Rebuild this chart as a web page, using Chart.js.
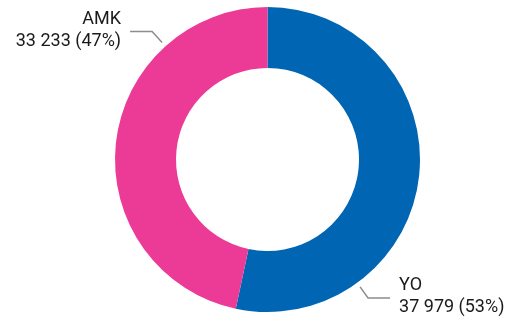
<!DOCTYPE html>
<html>
<head>
<meta charset="utf-8">
<script src="https://cdn.jsdelivr.net/npm/chart.js"></script>
<style>
  html, body { margin: 0; padding: 0; background: #fff; }
  #wrap { width: 514px; height: 317px; }
</style>
</head>
<body>
<div id="wrap"><canvas id="chart" width="514" height="317"></canvas></div>
<script>
const categories = ["YO", "AMK"];
const values = [37979, 33233];
const colors = ["#0066b3", "#ec3a97"];

const total = values.reduce((a, b) => a + b, 0);
const fmt = n => String(n).replace(/\B(?=(\d{3})+(?!\d))/g, " ");

// angle (deg clockwise from top) where the leader touches the ring, and label side
const leaders = [
  { angle: 144, side: "right", diag: [8, 11], run: 22 },
  { angle: 318, side: "left", diag: [-10, -11], run: 22 }
];

const calloutPlugin = {
  id: "callouts",
  afterDraw(chart) {
    const ctx = chart.ctx;
    const meta = chart.getDatasetMeta(0);
    meta.data.forEach((arc, i) => {
      const L = leaders[i];
      const a = (L.angle - 90) * Math.PI / 180;
      const r = arc.outerRadius + 5;
      const x0 = arc.x + Math.cos(a) * r;
      const y0 = arc.y + Math.sin(a) * r;
      const x1 = x0 + L.diag[0];
      const y1 = y0 + L.diag[1];
      const dir = L.side === "right" ? 1 : -1;
      const x2 = x1 + dir * L.run;
      ctx.save();
      ctx.strokeStyle = "#8c8c8c";
      ctx.lineWidth = 1.5;
      ctx.beginPath();
      ctx.moveTo(x0, y0);
      ctx.lineTo(x1, y1);
      ctx.lineTo(x2, y1);
      ctx.stroke();
      ctx.fillStyle = "#1a1a1a";
      ctx.font = "18px Roboto";
      ctx.textBaseline = "middle";
      ctx.textAlign = L.side === "right" ? "left" : "right";
      const tx = x2 + dir * 9;
      const pct = Math.round(values[i] / total * 100);
      ctx.fillText(categories[i], tx, y1 - 12);
      ctx.fillText(fmt(values[i]) + " (" + pct + "%)", tx, y1 + 10);
      ctx.restore();
    });
  }
};

new Chart(document.getElementById("chart"), {
  type: "doughnut",
  data: {
    labels: categories,
    datasets: [{
      data: values,
      backgroundColor: colors,
      borderWidth: 0
    }]
  },
  options: {
    responsive: false,
    animation: false,
    cutout: "60%",
    layout: { padding: { left: 21, right: 0, top: 7, bottom: 5 } },
    plugins: {
      legend: { display: false },
      tooltip: { enabled: false }
    }
  },
  plugins: [calloutPlugin]
});
</script>
</body>
</html>
